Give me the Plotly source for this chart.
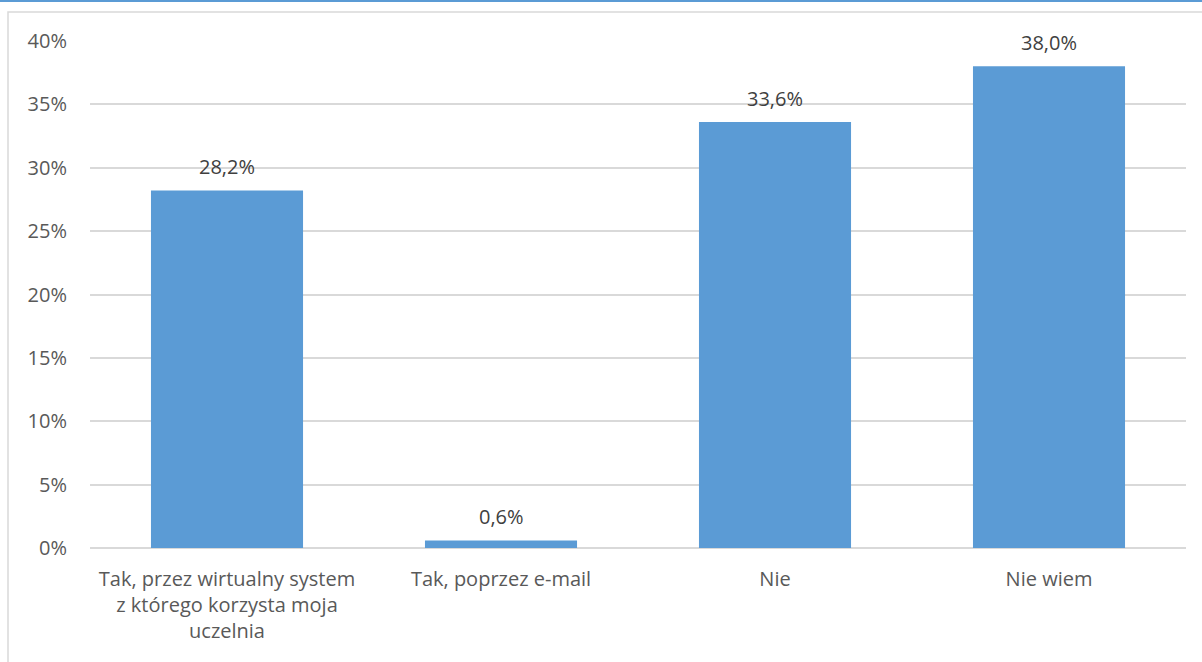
import plotly.graph_objects as go

# Survey answers and their shares
categories = [
    "Tak, przez wirtualny system<br>z którego korzysta moja<br>uczelnia",
    "Tak, poprzez e-mail",
    "Nie",
    "Nie wiem",
]
shares = [0.282, 0.006, 0.336, 0.380]
tick_values = [0, 0.05, 0.10, 0.15, 0.20, 0.25, 0.30, 0.35, 0.40]

W, H = 1202, 662
L, R, T, B = 90, 16, 41, 114

BAR_COLOR = "#5B9BD5"
FONT = "Open Sans"
FS = 20

fig = go.Figure(
    go.Bar(
        x=categories,
        y=shares,
        marker=dict(color=BAR_COLOR, line=dict(width=0)),
        hoverinfo="skip",
    )
)

# Value labels above each bar
for cat, val in zip(categories, shares):
    fig.add_annotation(
        x=cat, y=val, xref="x", yref="y",
        text=f"{val * 100:.1f}%".replace(".", ","),
        showarrow=False, yanchor="middle", yshift=24,
        font=dict(family=FONT, size=FS, color="#404040"),
    )

# Outer chart frame and the thin accent line above it
plot_w = W - L - R
plot_h = H - T - B
def px_x(p):
    return (p - L) / plot_w
def px_y(p):
    return (H - B - p) / plot_h

fig.add_shape(type="rect", xref="paper", yref="paper",
              x0=px_x(8), x1=px_x(W + 10), y0=px_y(H + 10), y1=px_y(12),
              line=dict(color="#D9D9D9", width=1.5), fillcolor="rgba(0,0,0,0)",
              layer="below")
fig.add_shape(type="line", xref="paper", yref="paper",
              x0=px_x(0), x1=px_x(W), y0=px_y(1), y1=px_y(1),
              line=dict(color="#5B9BD5", width=2))

fig.update_layout(
    width=W,
    height=H,
    margin=dict(l=L, r=R, t=T, b=B),
    paper_bgcolor="white",
    plot_bgcolor="white",
    separators=", ",
    bargap=0.445,
    showlegend=False,
    font=dict(family=FONT, size=FS, color="#595959"),
    xaxis=dict(
        showline=False,
        ticks="",
        ticklabelstandoff=17,
        tickfont=dict(family=FONT, size=FS, color="#595959"),
        fixedrange=True,
    ),
    yaxis=dict(
        range=[0, 0.40],
        tickvals=tick_values,
        tickformat=".0%",
        showgrid=True,
        gridcolor="#D9D9D9",
        gridwidth=1.5,
        zeroline=True,
        zerolinecolor="#D9D9D9",
        zerolinewidth=1.5,
        ticks="",
        ticklabelstandoff=22,
        tickfont=dict(family=FONT, size=FS, color="#595959"),
        fixedrange=True,
    ),
)

fig.write_html("out.html")
